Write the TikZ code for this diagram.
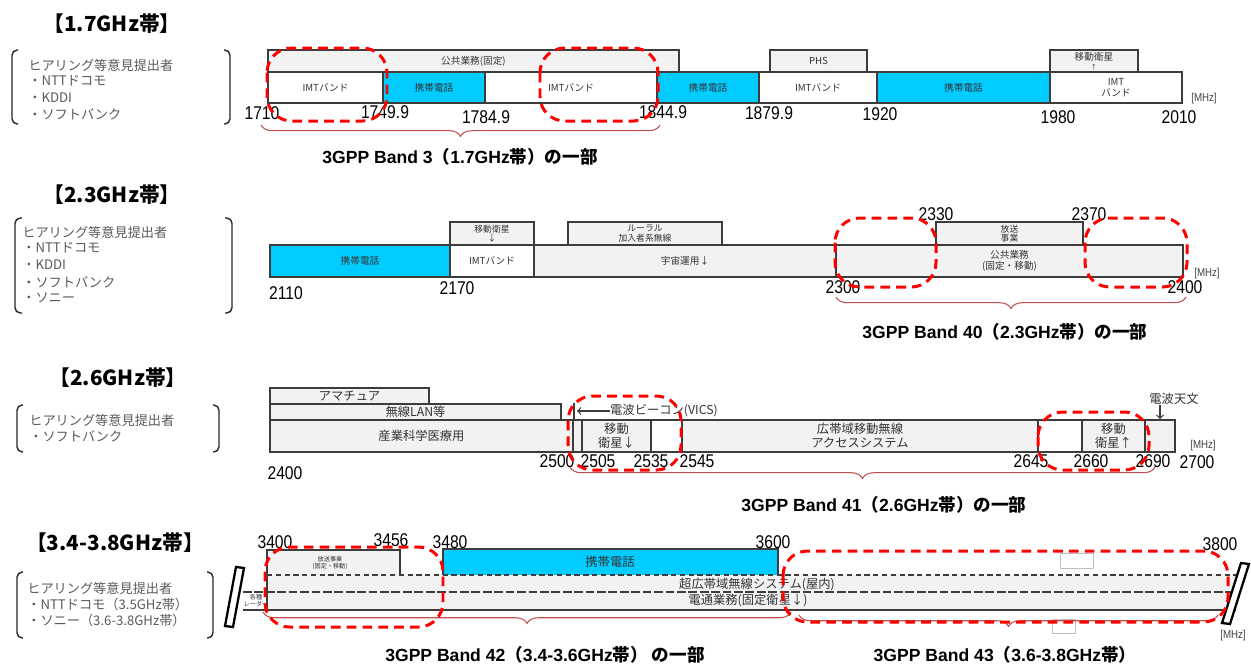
\documentclass[tikz,border=0pt]{standalone}
\usepackage{fontspec}
\setmainfont{Liberation Sans}
\newfontfamily\jp{Noto Sans CJK JP}
\newfontfamily\numf{Liberation Sans}[FakeStretch=0.85]
\usetikzlibrary{decorations.pathreplacing}

\definecolor{cellblue}{RGB}{0,204,255}
\definecolor{boxgray}{RGB}{242,242,242}
\definecolor{edge}{RGB}{60,60,60}
\definecolor{bracered}{RGB}{192,80,77}
\definecolor{listgray}{RGB}{90,90,90}

\tikzset{
  box/.style={draw=edge, line width=0.9pt},
  lbl/.style={font=\jp\fontsize{5.5}{6}\selectfont, text=black!80, align=center, inner sep=0pt},
  big/.style={font=\jp\fontsize{7}{8}\selectfont},
  wee/.style={font=\jp\fontsize{3.5}{4}\selectfont},
  num/.style={font=\numf\fontsize{10.5}{12}\selectfont, inner sep=0pt},
  mhz/.style={font=\numf\fontsize{6.5}{7}\selectfont, text=black!75, inner sep=0pt},
  ttl/.style={font=\jp\bfseries\fontsize{11.8}{14}\selectfont, inner sep=0pt},
  gpp/.style={font=\bfseries\fontsize{10}{12}\selectfont, inner sep=0pt},
  lst/.style={font=\jp\fontsize{7.5}{9}\selectfont, text=listgray, anchor=west, inner sep=0pt},
  hit/.style={draw=red, line width=1.7pt, dash pattern=on 5.5pt off 3.5pt, rounded corners=14pt},
  brc/.style={draw=bracered, line width=0.6pt, decorate, decoration={brace, mirror, amplitude=6.5pt}},
  paren/.style={draw=black!85, line width=0.8pt, rounded corners=3pt},
}

% one band segment: [label style]{name}{x1}{y1}{x2}{y2}{fill}{text}
\newcommand{\seg}[8][]{%
  \draw[box, fill=#7] (#3,#4) rectangle (#5,#6);
  \node[lbl, #1] (#2) at ({(#3+#5)/2},{(#4+#6)/2}) {#8};}

\begin{document}
\begin{tikzpicture}[x=0.02cm, y=-0.02cm]
    \useasboundingbox (0,0) rectangle (1251,664);

    % ================= 1.7GHz band
    \node[ttl] (t17) at (112,24) {【1.7GHz帯】};
    \draw[paren] (18,50) -- (12,50) -- (12,124) -- (18,124);
    \draw[paren] (224,50) -- (230,50) -- (230,124) -- (224,124);
    \node[lst] (h17) at (28,65) {ヒアリング等意見提出者};
    \node[lst] (h17a) at (28,81) {・NTTドコモ};
    \node[lst] (h17b) at (28,98) {・KDDI};
    \node[lst] (h17c) at (28,114) {・ソフトバンク};
    % upper row
    \seg{pub17}{268}{50}{679}{72}{boxgray}{公共業務(固定)}
    \seg{phs}{770}{50}{867}{72}{boxgray}{PHS}
    \seg{sat17}{1050}{50}{1138}{72}{boxgray}{移動衛星\\[-1pt]{\fontsize{3.5}{4}\selectfont ↑}}
    % main row
    \seg{imtA}{268}{72}{383}{103}{white}{IMTバンド}
    \seg{celA}{383}{72}{485}{103}{cellblue}{携帯電話}
    \seg{imtB}{485}{72}{657}{103}{white}{IMTバンド}
    \seg{celB}{657}{72}{759}{103}{cellblue}{携帯電話}
    \seg{imtC}{759}{72}{877}{103}{white}{IMTバンド}
    \seg{celC}{877}{72}{1050}{103}{cellblue}{携帯電話}
    \seg{imtD}{1050}{72}{1182}{103}{white}{IMT\\バンド}
    \foreach \f/\x/\y in {1710/262/113, 1749.9/385/112, 1784.9/486/117, 1844.9/663/112,
                          1879.9/769/113, 1920/880/114, 1980/1058/117, 2010/1179/117}
        \node[num] (n\x) at (\x,\y) {\f};
    \node[mhz] (mhz17) at (1204,99) {[MHz]};
    \draw[brc] (261,125) -- (660,125);
    \node[gpp] (b3) at (460,157) {3GPP Band 3{\jp （}1.7GHz{\jp 帯）の一部}};
    \draw[hit] (267,48) rectangle (387,121);
    \draw[hit] (540,48) rectangle (658,121);

    % ================= 2.3GHz band
    \node[ttl] (t23) at (112,195) {【2.3GHz帯】};
    \draw[paren] (22,218) -- (15,218) -- (15,313) -- (22,313);
    \draw[paren] (225,218) -- (232,218) -- (232,313) -- (225,313);
    \node[lst] (h23) at (22,232) {ヒアリング等意見提出者};
    \node[lst] (h23a) at (22,248) {・NTTドコモ};
    \node[lst] (h23b) at (22,265) {・KDDI};
    \node[lst] (h23c) at (22,282) {・ソフトバンク};
    \node[lst] (h23d) at (22,298) {・ソニー};
    % upper row
    \seg[font=\jp\fontsize{5}{5.5}\selectfont]{sat23}{450}{222}{534}{245}{boxgray}{移動衛星\\↓}
    \seg[font=\jp\fontsize{5}{5.5}\selectfont]{rur}{568}{222}{722}{245}{boxgray}{ルーラル\\加入者系無線}
    \seg[font=\jp\fontsize{5}{5.5}\selectfont]{bro23}{936}{222}{1083}{245}{boxgray}{放送\\事業}
    % main row
    \seg{cel23}{270}{245}{450}{277}{cellblue}{携帯電話}
    \seg{imt23}{450}{245}{534}{277}{white}{IMTバンド}
    \seg{spc}{534}{245}{836}{277}{boxgray}{宇宙運用↓}
    \seg{pub23}{836}{245}{1183}{277}{boxgray}{公共業務\\(固定・移動)}
    \foreach \f/\x/\y in {2110/286/293, 2170/457/288, 2300/843/287, 2400/1185/287,
                          2330/936/214, 2370/1089/214}
        \node[num] (n\x) at (\x,\y) {\f};
    \node[mhz] (mhz23) at (1207,274) {[MHz]};
    \draw[brc] (836,297) -- (1186,297);
    \node[gpp] (b40) at (1005,332) {3GPP Band 40{\jp （}2.3GHz{\jp 帯）の一部}};
    \draw[hit] (835,218) rectangle (936,287);
    \draw[hit] (1085,218) rectangle (1187,287);

    % ================= 2.6GHz band
    \node[ttl] (t26) at (118,378) {【2.6GHz帯】};
    \draw[paren] (23,405) -- (17,405) -- (17,452) -- (23,452);
    \draw[paren] (213,405) -- (219,405) -- (219,452) -- (213,452);
    \node[lst] (h26) at (29,420) {ヒアリング等意見提出者};
    \node[lst] (h26a) at (29,436) {・ソフトバンク};
    % upper rows
    \seg[big]{ama}{270}{388}{429}{404}{boxgray}{アマチュア}
    \seg[big]{wlan}{270}{404}{561}{420}{boxgray}{無線LAN等}
    % main row
    \seg[big]{ism}{270}{420}{573}{452}{boxgray}{産業科学医療用}
    \seg{vic}{573}{420}{582}{452}{boxgray}{}
    \seg[big]{sat26a}{582}{420}{651}{452}{boxgray}{移動\\衛星↓}
    \seg{gap26a}{651}{420}{682}{452}{white}{}
    \seg[big]{bwa}{682}{420}{1038}{452}{boxgray}{広帯域移動無線\\アクセスシステム}
    \seg{gap26b}{1038}{420}{1082}{452}{white}{}
    \seg[big]{sat26b}{1082}{420}{1145}{452}{boxgray}{移動\\衛星↑}
    \seg{ras}{1145}{420}{1175}{452}{boxgray}{}
    % pointers
    \draw[box] (574,403) -- (574,420);
    \node[lbl, big] (vics) at (664,411) {電波ビーコン(VICS)};
    \coordinate (vicsT) at (577,411);
    \draw[edge, line width=0.7pt, ->] (vics.west) -- (vicsT);
    \node[lbl, big] (ra) at (1174,399) {電波天文};
    \coordinate (raT) at (1160,419);
    \draw[edge, line width=0.7pt, ->] (ra.south -| raT) -- (raT);
    \foreach \f/\x/\y in {2400/285/473, 2500/557/461, 2505/598/461, 2535/651/461,
                          2545/697/461, 2645/1031/461, 2660/1091/461, 2690/1153/461, 2700/1197/462}
        \node[num] (n\x) at (\x,\y) {\f};
    \node[mhz] (mhz26) at (1203,446) {[MHz]};
    \draw[brc] (570,467) -- (1155,467);
    \node[gpp] (b41) at (884,505) {3GPP Band 41{\jp （}2.6GHz{\jp 帯）の一部}};
    \draw[hit] (568,396) rectangle (681,470);
    \draw[hit] (1038,412) rectangle (1149,470);

    % ================= 3.4-3.8GHz band
    \node[ttl] (t34) at (115,543) {【3.4-3.8GHz帯】};
    \draw[paren] (23,572) -- (17,572) -- (17,638) -- (23,638);
    \draw[paren] (207,572) -- (213,572) -- (213,638) -- (207,638);
    \node[lst] (h34) at (27,588) {ヒアリング等意見提出者};
    \node[lst] (h34a) at (27,604) {・NTTドコモ（3.5GHz帯）};
    \node[lst] (h34b) at (27,620) {・ソニー（3.6-3.8GHz帯）};
    % shared rows
    \fill[boxgray] (267,575) rectangle (1236,610);
    \draw[box, fill=boxgray] (267,575) -- (267,550) -- (400,550) -- (400,575);
    \node[lbl, wee] (bro34) at (330,563) {放送事業\\(固定・移動)};
    \draw[box, fill=cellblue] (443,575) -- (443,549) -- (778,549) -- (778,575);
    \node[lbl, big] (cel34) at (610,562) {携帯電話};
    \draw[box, dash pattern=on 3pt off 2pt] (267,575) -- (1236,575);
    \draw[box, dash pattern=on 5pt off 1.5pt] (243,592) -- (1236,592);
    \draw[box] (243,610) -- (1236,610);
    \draw[box] (267,550) -- (267,610);
    \node[lbl, big] (uwb) at (757,585) {超広帯域無線システム(屋内)};
    \node[lbl, big] (fss) at (748,601) {電通業務(固定衛星↓)};
    % break marks
    \draw[line width=1.3pt, fill=white] (236,567) -- (244,568) -- (233,627) -- (225,626) -- cycle;
    \draw[line width=1.3pt, fill=white] (1241,563) -- (1249,564) -- (1230,624) -- (1222,623) -- cycle;
    \node[lbl, wee] (rad) at (256,601) {各種\\レーダー};
    \draw[black!25, line width=0.5pt] (1060,553) rectangle (1093,568);
    \draw[black!25, line width=0.5pt] (1052,619) rectangle (1075,633);
    \foreach \f/\x/\y in {3400/275/542, 3456/391/540, 3480/450/542, 3600/773/542, 3800/1220/544}
        \node[num] (n\x) at (\x,\y) {\f};
    \node[mhz] (mhz34) at (1233,636) {[MHz]};
    \draw[brc] (263,612) -- (791,612);
    \draw[brc] (799,615) -- (1218,615);
    \node[gpp] (b42) at (545,655) {3GPP Band 42{\jp （}3.4-3.6GHz{\jp 帯） の一部}};
    \node[gpp] (b43) at (1005,655) {3GPP Band 43{\jp （}3.6-3.8GHz{\jp 帯）}};
    \draw[hit] (265,547) rectangle (443,627);
    \draw[hit] (783,551) rectangle (1228,622);
\end{tikzpicture}
\end{document}
